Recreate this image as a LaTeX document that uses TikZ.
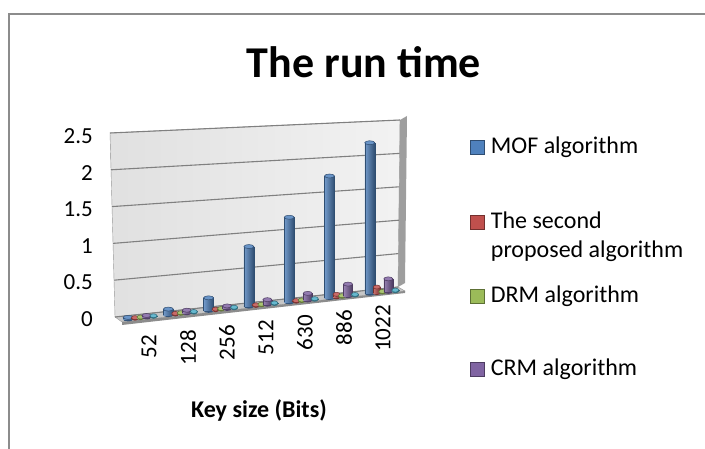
\documentclass[tikz,border=0pt]{standalone}
\usepackage{fontspec}
\setmainfont{Carlito}
\usetikzlibrary{positioning}

\definecolor{mofblue}{HTML}{4F81BD}
\definecolor{secred}{HTML}{C0504D}
\definecolor{drmgreen}{HTML}{9BBB59}
\definecolor{crmpurple}{HTML}{8064A2}
\definecolor{extcyan}{HTML}{4BACC6}

% cylinder: x, base y, width, height, colour
\newcommand{\drawcyl}[5]{%
  \fill[#5!65!black] (#1,#2) ellipse [x radius={#3*0.5pt}, y radius=2pt];
  \fill[left color=#5!80!white, middle color=#5, right color=#5!60!black]
    ({#1-#3/2},#2) rectangle ({#1+#3/2},{#2-#4});
  \draw[#5!60!black,line width=0.6pt] ({#1-#3/2},#2) -- ({#1-#3/2},{#2-#4})
    ({#1+#3/2},#2) -- ({#1+#3/2},{#2-#4});
  \fill[#5!85!white,draw=#5!60!black,line width=0.5pt] (#1,{#2-#4}) ellipse [x radius={#3*0.5pt}, y radius=2pt];
}

\begin{document}
\begin{tikzpicture}[x=1pt,y=-1pt]
    \tikzstyle{frame}=[draw=black!45,line width=2pt]
    \tikzstyle{grid line}=[draw=black!50,line width=1.1pt]
    \tikzstyle{tick label}=[font=\fontsize{23}{27}\selectfont,inner sep=0pt]
    \tikzstyle{key box}=[minimum size=14pt,inner sep=0pt]
    \tikzstyle{key text}=[font=\fontsize{24}{29}\selectfont,align=left,inner sep=0pt,anchor=west]
    \useasboundingbox (0,0) rectangle (705,449);

    % Chart frame
    \draw[frame] (9,449) -- (9,14) -- (705,14);

    % Title
    \node[font=\fontsize{44}{50}\selectfont\bfseries] (title) at (364,62) {The run time};

    % Walls and floor
    \path[left color=black!12,right color=black!5,draw=black!40]
        (110,133) -- (400,120) -- (398,287) -- (115,317) -- cycle;
    \path[fill=black!38] (400,120) -- (407,116) -- (405,283) -- (398,287) -- cycle;
    \path[fill=black!22,draw=black!40] (115,317) -- (398,287) -- (405,291) -- (122,322) -- cycle;
    \path[fill=black!45] (122,322) -- (405,291) -- (405,293) -- (122,325) -- cycle;

    % Draw the grid lines and value labels
    \foreach \name / \v in {0/0,1/0.5,2/1,3/1.5,4/2,5/2.5}
    {
        \path[grid line] ({115-2*\v},{317-73.6*\v}) -- ({398+0.8*\v},{287-66.8*\v});
        \node[tick label,anchor=east] (Y-\name) at (93,{319-73.2*\v}) {\v};
    }

    % Draw the columns: MOF, second, DRM, CRM and the fifth series
    \foreach \name / \hb / \hr / \hg / \hp in {0/2/1/1/2, 1/6/1/1/3, 2/13/1/1/3,
        3/60/1/1/5, 4/85/1/1/7, 5/122/3/1/12, 6/151/6/1/13}
    {
        \pgfmathsetmacro\cx{128+40.3*\name}
        \pgfmathsetmacro\by{320-(\cx-122)*0.106}
        \drawcyl{\cx}{\by}{10}{\hb}{mofblue}
        \drawcyl{\cx+7}{\by-0.7}{7}{\hr}{secred}
        \drawcyl{\cx+12.5}{\by-1.3}{7}{\hg}{drmgreen}
        \drawcyl{\cx+18.5}{\by-1.9}{9}{\hp}{crmpurple}
        \drawcyl{\cx+25.5}{\by-2.6}{7}{1}{extcyan}
    }

    % Category labels
    \foreach \name / \k in {0/52,1/128,2/256,3/512,4/630,5/886,6/1022}
        \node[tick label,rotate=90,anchor=east] (X-\name) at ({149+39*\name},{335-5*\name}) {\k};

    \node[font=\fontsize{24}{28}\selectfont\bfseries] (xlabel) at (259,410) {Key size (Bits)};

    % Legend
    \node[key box,fill=mofblue,draw=mofblue!60!black] (K-1) at (477.5,147) {};
    \node[key box,fill=secred,draw=secred!60!black] (K-2) at (477.5,222) {};
    \node[key box,fill=drmgreen,draw=drmgreen!60!black] (K-3) at (477.5,296) {};
    \node[key box,fill=crmpurple,draw=crmpurple!60!black] (K-4) at (477.5,369) {};
    \node[key text,right=6pt of K-1] (T-1) {MOF algorithm};
    \node[key text,right=6pt of K-2,yshift=-14.5pt] (T-2) {The second\\proposed algorithm};
    \node[key text,right=6pt of K-3] (T-3) {DRM algorithm};
    \node[key text,right=6pt of K-4] (T-4) {CRM algorithm};
\end{tikzpicture}
\end{document}
